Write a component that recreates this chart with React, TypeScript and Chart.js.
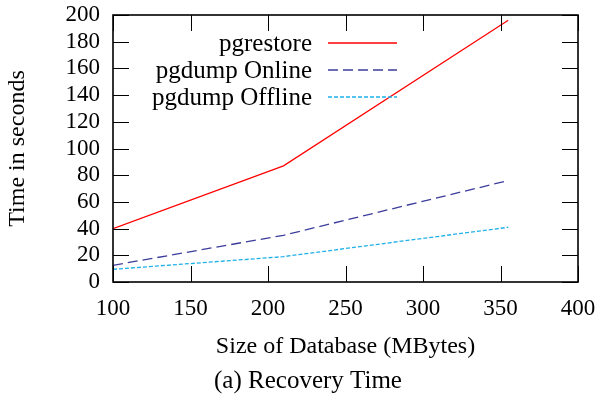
import React, { useEffect, useRef } from "react";
import { Chart, registerables } from "chart.js";

Chart.register(...registerables);

const sizes = [100, 210, 355];
const pgrestore = [40, 87, 196];
const pgdumpOnline = [12.5, 35, 76];
const pgdumpOffline = [9.5, 19, 41];

const xTickValues = [100, 150, 200, 250, 300, 350, 400];
const yTickValues = [0, 20, 40, 60, 80, 100, 120, 140, 160, 180, 200];

const xTitle = "Size of Database (MBytes)";
const yTitle = "Time in seconds";
const subTitle = "(a) Recovery Time";

const FONT = "Liberation Serif";
const tickFont = { family: FONT, size: 23, lineHeight: 1.2 };
const titleFont = { family: FONT, size: 24, lineHeight: 1.2 };

const frameTicksPlugin = {
  id: "frameTicks",
  afterDraw(chart: any) {
    const { ctx, chartArea } = chart;
    const { left, right, top, bottom } = chartArea;
    const xs = chart.scales.x;
    const ys = chart.scales.y;
    const TL = 16;
    ctx.save();
    ctx.setLineDash([]);
    ctx.globalAlpha = 1;
    ctx.strokeStyle = "#000000";
    ctx.lineWidth = 1;
    ctx.beginPath();
    xTickValues.forEach((v) => {
      const px = Math.round(xs.getPixelForValue(v)) + 0.5;
      ctx.moveTo(px, bottom);
      ctx.lineTo(px, bottom - TL);
      ctx.moveTo(px, top);
      ctx.lineTo(px, top + TL);
    });
    yTickValues.forEach((v) => {
      const py = Math.round(ys.getPixelForValue(v)) + 0.5;
      ctx.moveTo(left, py);
      ctx.lineTo(left + TL, py);
      ctx.moveTo(right, py);
      ctx.lineTo(right - TL, py);
    });
    ctx.stroke();
    ctx.lineWidth = 1.6;
    ctx.strokeRect(left, top, right - left, bottom - top);
    ctx.restore();
  },
};

const legendPlugin = {
  id: "customLegend",
  afterDraw(chart: any) {
    const { ctx } = chart;
    const rowsY = [43, 70, 97];
    const textRight = 312;
    const lineStart = 328;
    const lineEnd = 397;
    ctx.save();
    ctx.globalAlpha = 1;
    ctx.font = `25px "${FONT}"`;
    ctx.textAlign = "right";
    ctx.textBaseline = "middle";
    chart.data.datasets.forEach((ds: any, i: number) => {
      const y = rowsY[i];
      ctx.setLineDash([]);
      ctx.fillStyle = "#000000";
      ctx.fillText(ds.label, textRight, y + 1);
      ctx.beginPath();
      ctx.strokeStyle = String(ds.borderColor);
      ctx.lineWidth = 1.4;
      ctx.setLineDash(ds.borderDash || []);
      ctx.moveTo(lineStart, y);
      ctx.lineTo(lineEnd, y);
      ctx.stroke();
    });
    ctx.setLineDash([]);
    ctx.font = `25px "${FONT}"`;
    ctx.textAlign = "center";
    ctx.fillStyle = "#000000";
    ctx.fillText(subTitle, 308, 381);
    ctx.restore();
  },
};

export default function App() {
  const ref = useRef<HTMLCanvasElement>(null);
  useEffect(() => {
    if (!ref.current) return;
    const chart = new Chart(ref.current, {
      type: "line",
      data: {
        datasets: [
          {
            label: "pgrestore",
            data: sizes.map((x, i) => ({ x, y: pgrestore[i] })),
            borderColor: "#ff0000",
            borderWidth: 1.2,
            pointRadius: 0,
            tension: 0,
          },
          {
            label: "pgdump Online",
            data: sizes.map((x, i) => ({ x, y: pgdumpOnline[i] })),
            borderColor: "#3c3c9c",
            borderWidth: 1.3,
            borderDash: [10, 5],
            pointRadius: 0,
            tension: 0,
          },
          {
            label: "pgdump Offline",
            data: sizes.map((x, i) => ({ x, y: pgdumpOffline[i] })),
            borderColor: "#1fb0ea",
            borderWidth: 1.3,
            borderDash: [4, 2],
            pointRadius: 0,
            tension: 0,
          },
        ],
      },
      options: {
        responsive: false,
        animation: false,
        devicePixelRatio: 1,
        layout: { padding: { left: 0, right: 23, top: 15, bottom: 0 } },
        plugins: {
          legend: { display: false },
          tooltip: { enabled: false },
        },
        scales: {
          x: {
            type: "linear",
            min: 100,
            max: 400,
            grid: { display: false, drawTicks: false },
            border: { display: false },
            ticks: {
              stepSize: 50,
              autoSkip: false,
              color: "#000",
              font: tickFont,
              padding: 13,
              maxRotation: 0,
            },
            title: {
              display: true,
              text: xTitle,
              color: "#000",
              font: titleFont,
              padding: { top: 0, bottom: 38 },
            },
            afterFit: (scale: any) => {
              scale.height = 117;
              scale.paddingLeft = 0;
              scale.paddingRight = 0;
            },
          },
          y: {
            type: "linear",
            min: 0,
            max: 200,
            grid: { display: false, drawTicks: false },
            border: { display: false },
            ticks: {
              stepSize: 20,
              autoSkip: false,
              color: "#000",
              font: tickFont,
              padding: 13,
            },
            title: {
              display: true,
              text: yTitle,
              color: "#000",
              font: titleFont,
              padding: { top: 3, bottom: 3 },
            },
            afterFit: (scale: any) => {
              scale.width = 113;
              scale.paddingTop = 0;
              scale.paddingBottom = 0;
            },
          },
        },
      },
      plugins: [frameTicksPlugin, legendPlugin],
    });
    return () => chart.destroy();
  }, []);
  return (
    <canvas
      ref={ref}
      width={601}
      height={399}
      style={{ position: "fixed", left: 0, top: 0, width: 601, height: 399, display: "block", background: "#fff" }}
    />
  );
}
